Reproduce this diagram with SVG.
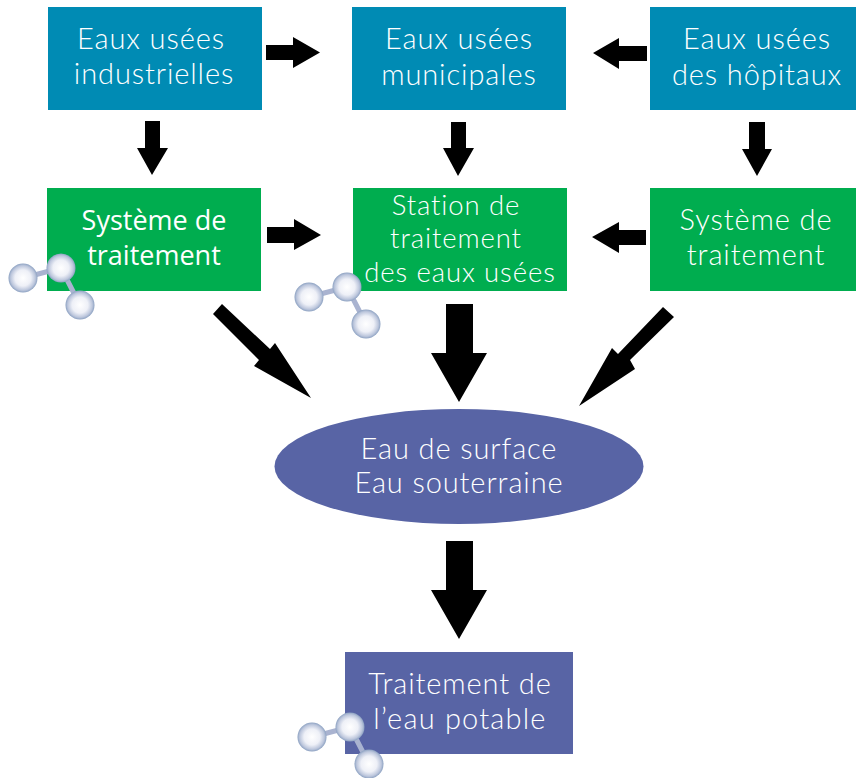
<svg xmlns="http://www.w3.org/2000/svg" width="856" height="778" viewBox="0 0 856 778">
<defs>
<radialGradient id="b" cx="50%" cy="50%" r="50%"><stop offset="0" stop-color="#ffffff"/><stop offset="0.55" stop-color="#eef0f7"/><stop offset="0.85" stop-color="#bcc6dc"/><stop offset="1" stop-color="#8da2c2"/></radialGradient>
<g id="mol">
<path d="M0 0L-38 10M0 0L19 37" stroke="#a9b3d0" stroke-width="5" fill="none"/>
<circle cx="-38" cy="10" r="14.5" fill="url(#b)"/>
<circle cx="0" cy="0" r="14.5" fill="url(#b)"/>
<circle cx="19" cy="37" r="14.5" fill="url(#b)"/>
</g>
</defs>
<style>
text{font-family:"Lato","Open Sans","Liberation Sans",sans-serif;font-size:29px;font-weight:300;fill:#fff;text-anchor:middle;letter-spacing:.9px}
.blue{fill:#008bb4}.green{fill:#00ad4f}.violet{fill:#5864a5}
.semi{font-family:"Open Sans",sans-serif;font-weight:500;font-size:27px;letter-spacing:0}
.tight{font-size:27.5px}
</style>
<rect width="856" height="778" fill="#fff"/>
<g id="n1"><rect class="blue" x="48" y="7" width="214" height="103"/><text x="151" y="49">Eaux usées</text><text x="154" y="84">industrielles</text></g>
<g id="n2"><rect class="blue" x="352" y="7" width="214" height="103"/><text x="459" y="49">Eaux usées</text><text x="459" y="85">municipales</text></g>
<g id="n3"><rect class="blue" x="650" y="7" width="206" height="103"/><text x="757" y="49">Eaux usées</text><text x="757" y="85">des hôpitaux</text></g>
<g id="n4"><rect class="green" x="47" y="188" width="214" height="103"/><text class="semi" x="154" y="230">Système de</text><text class="semi" x="154" y="265">traitement</text></g>
<g id="n5"><rect class="green" x="353" y="188" width="214" height="103"/><text class="tight" x="456" y="215">Station de</text><text class="tight" x="456" y="248">traitement</text><text class="tight" x="460" y="282">des eaux usées</text></g>
<g id="n6"><rect class="green" x="650" y="188" width="206" height="103"/><text x="756" y="230">Système de</text><text x="756" y="265">traitement</text></g>
<g id="n7"><ellipse class="violet" cx="459" cy="466.500" rx="184.500" ry="57.500"/><text x="459" y="459">Eau de surface</text><text x="459" y="493">Eau souterraine</text></g>
<g id="n8"><rect class="violet" x="345" y="652" width="228" height="102"/><text x="460" y="694">Traitement de</text><text x="460" y="729" style="letter-spacing:1.2px">l’eau potable</text></g>
<g id="molecules"><use href="#mol" x="61" y="268"/><use href="#mol" x="347" y="287"/><use href="#mol" x="350" y="727"/></g>
<g id="connectors" fill="#000">
<path d="M266 45H293V37L320 52.500L293 68V60H266Z"/>
<path d="M647 46H619V38L593 53L619 69V61H647Z"/>
<path d="M267 227H294V219L321 235L294 250V243H267Z"/>
<path d="M646 230H619V222L592 237L619 253V245H646Z"/>
<path d="M145 121H160V148H168L152 175L137 148H145Z"/>
<path d="M451 122H466V148H474L458 176L443 148H451Z"/>
<path d="M749 122H765V149H772L757 176L742 149H749Z"/>
<path d="M446 304H473V353H487L459 402L431 353H446Z"/>
<path d="M446 541H473V590H487L459 639L431 590H446Z"/>
<path d="M222 304L270 349L275 343L311 398L254 366L259 360L213 314Z"/>
<path d="M663 307L674 317L630 360L635 369L579 406L612 348L618 354Z"/>
</g>
</svg>
